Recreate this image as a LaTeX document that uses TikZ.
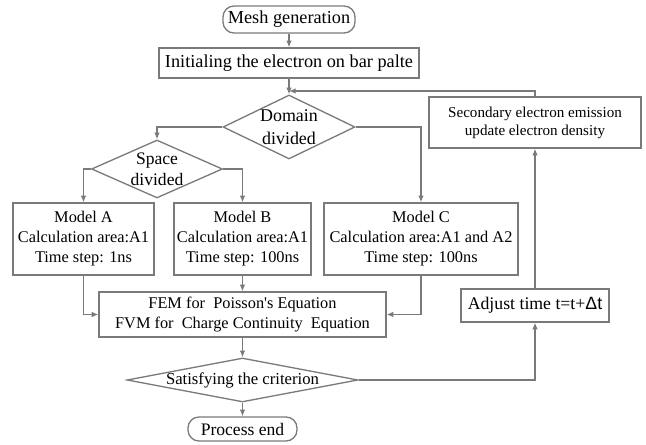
\documentclass[tikz,border=0pt]{standalone}
\usepackage{fontspec}
\setmainfont{Liberation Serif}
\newfontfamily\deltafont{Liberation Sans}
\usetikzlibrary{shapes.geometric,arrows.meta}
\definecolor{linegray}{RGB}{122,122,122}
\begin{document}
\begin{tikzpicture}[x=0.02cm, y=-0.02cm, every node/.style={font=\fontsize{9.3}{11.4}\selectfont},
  box/.style={draw=linegray,line width=0.75pt,align=center,inner sep=0pt},
  term/.style={box,rounded corners=0.22cm},
  dec/.style={draw=linegray,line width=0.75pt,align=center,diamond,inner sep=-3pt},
  link/.style={draw=linegray,line width=0.75pt,-{Latex[length=3.8pt,width=3.2pt]}}]
  \useasboundingbox (0,0) rectangle (646,445);
  % start and setup
  \node[term,minimum width=2.64cm,minimum height=0.54cm,font=\fontsize{10.4}{12}\selectfont] (mesh) at (289,19.5) {Mesh generation};
  \node[box,minimum width=5.2cm,minimum height=0.6cm,font=\fontsize{10.4}{12}\selectfont] (init) at (289,63) {Initialing the electron on bar palte};
  \coordinate (merge) at (289,91);
  % decisions
  \node[dec,aspect=2.06,minimum width=2.64cm,minimum height=1.28cm,font=\fontsize{10.2}{13}\selectfont] (domain) at (289,127) {Domain\\divided};
  \node[dec,aspect=2.26,minimum width=2.62cm,minimum height=1.16cm,font=\fontsize{10}{12}\selectfont] (space) at (157,169) {Space\\divided};
  % models
  \node[box,minimum width=2.82cm,minimum height=1.44cm] (ma) at (83.5,239) {Model A\\Calculation area:A1\\Time step: 1ns};
  \node[box,minimum width=2.74cm,minimum height=1.44cm] (mb) at (242.5,239) {Model B\\Calculation area:A1\\Time step: 100ns};
  \node[box,minimum width=3.88cm,minimum height=1.44cm] (mc) at (421,239) {Model C\\Calculation area:A1 and A2\\Time step: 100ns};
  % loop side
  \node[box,minimum width=4.24cm,minimum height=1.02cm,font=\fontsize{8.6}{10.2}\selectfont] (sec) at (535,122.5) {Secondary electron emission\\update electron density};
  \node[box,minimum width=2.96cm,minimum height=0.66cm,font=\fontsize{10.1}{12}\selectfont] (adj) at (535,305.5) {Adjust time t=t+{\deltafont Δt}};
  % solver and end
  \node[box,minimum width=5.74cm,minimum height=0.9cm] (fem) at (242.5,314.5) {FEM for\ \ Poisson\textquotesingle s Equation\\FVM for\ \ Charge Continuity\ \ Equation};
  \node[dec,aspect=5.25,minimum width=4.62cm,minimum height=0.88cm,font=\fontsize{9.5}{11}\selectfont] (crit) at (242.5,380) {Satisfying the criterion};
  \node[term,minimum width=2.18cm,minimum height=0.48cm,font=\fontsize{10}{12}\selectfont] (endn) at (242.5,429) {Process end};
  % connectors
  \draw[link] (mesh) -- (init);
  \draw[link] (init) -- (domain);
  \draw[link] (sec.north) |- (merge);
  \draw[link] (domain.west) -| (space.north);
  \draw[link] (domain.east) -| (mc.north);
  \draw[link] (space.west) -| (ma.north);
  \draw[link] (space.east) -| (mb.north);
  \draw[link] (ma.south) |- (fem.west);
  \draw[link] (mc.south) |- (fem.east);
  \draw[link] (mb) -- (fem);
  \draw[link] (fem) -- (crit);
  \draw[link] (crit) -- (endn);
  \draw[link] (crit.east) -| (adj.south);
  \draw[link] (adj) -- (sec);
\end{tikzpicture}
\end{document}
